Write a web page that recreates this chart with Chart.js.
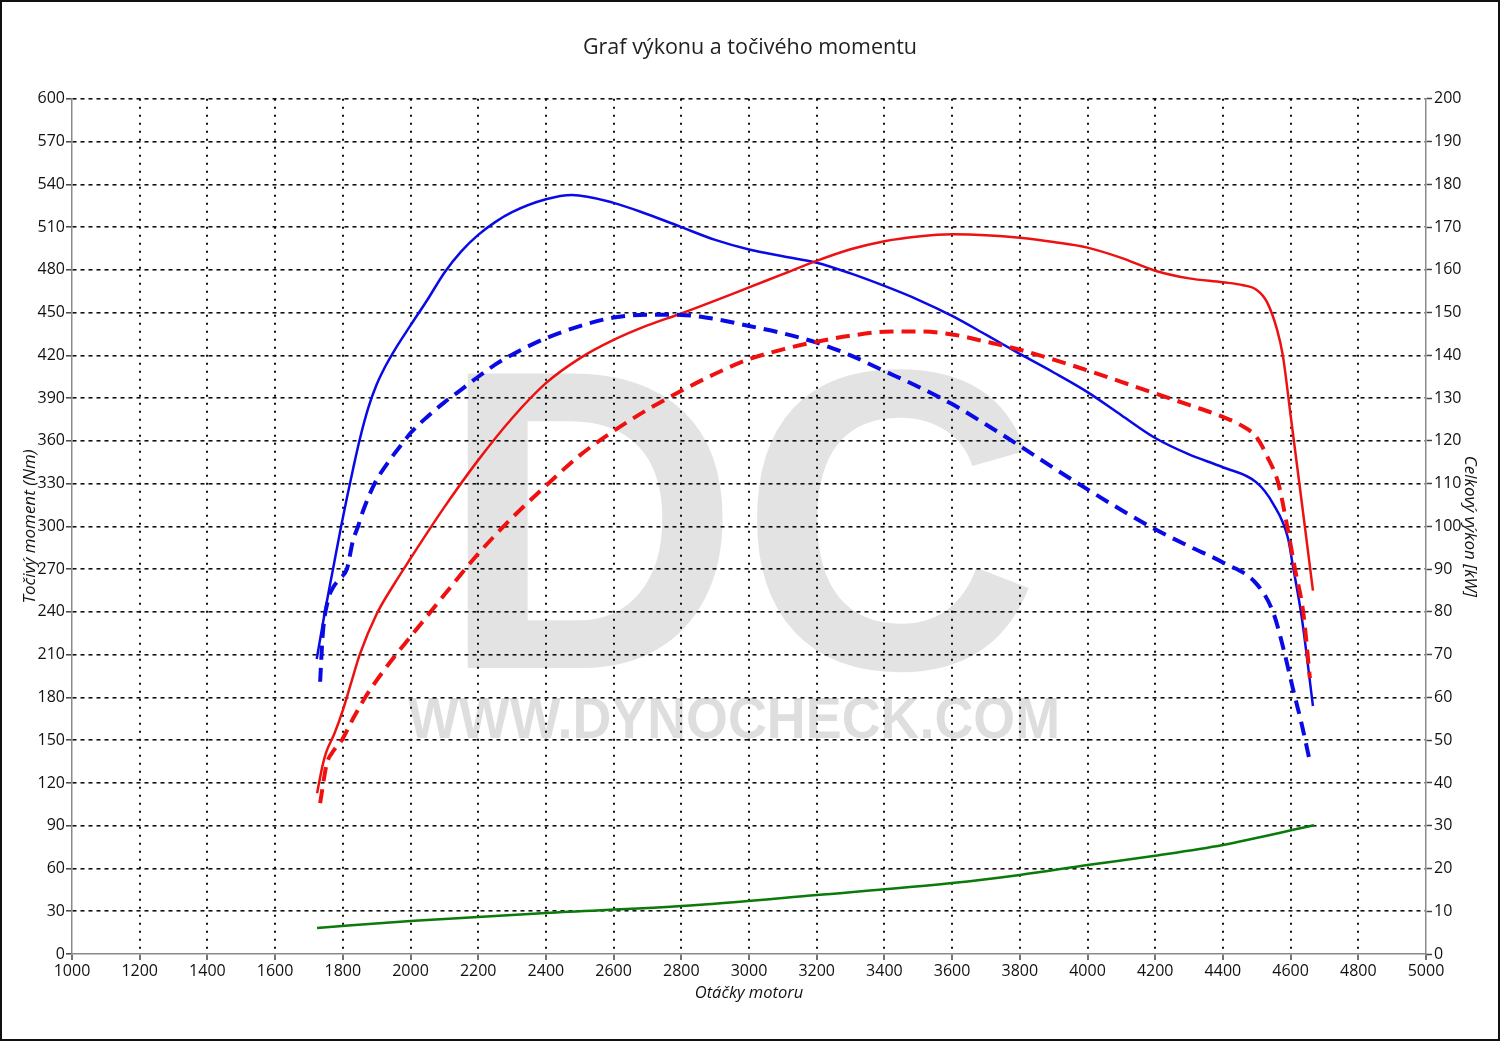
<!DOCTYPE html>
<html>
<head>
<meta charset="utf-8">
<script src="https://cdn.jsdelivr.net/npm/chart.js@4.4.1/dist/chart.umd.min.js"></script>
<style>
  html, body { margin: 0; padding: 0; background: #fff; }
  #wrap { position: relative; width: 1500px; height: 1041px; }
</style>
</head>
<body>
<div id="wrap"><canvas id="dyno"></canvas></div>
<script>
// Data
const rpmTorqueTuned = [1723, 1747, 1771, 1795, 1812, 1830, 1850, 1875, 1900, 1925, 1950, 2000, 2050, 2100, 2150, 2200, 2250, 2300, 2400, 2477, 2600, 2700, 2800, 2900, 3000, 3100, 3200, 3300, 3400, 3500, 3600, 3700, 3800, 3900, 4000, 4100, 4200, 4300, 4400, 4500, 4548, 4592, 4607, 4633, 4666];
const torqueTuned = [207, 240, 270, 300, 320, 340, 361, 383, 399.5, 412, 422.5, 441, 459, 478, 493, 504.5, 513.5, 520.5, 529.5, 532.5, 527, 519, 510, 501, 494.3, 489.5, 485, 477.5, 468.7, 459, 447.7, 434.5, 421, 408, 394.2, 378, 362, 350.5, 341.5, 330.7, 316, 292, 272, 236, 174];

const rpmTorqueStock = [1733, 1741, 1756, 1771, 1792, 1812, 1830, 1845, 1860, 1894, 1940, 1982, 2000, 2050, 2100, 2150, 2200, 2250, 2300, 2400, 2500, 2600, 2700, 2800, 2900, 3000, 3100, 3200, 3300, 3400, 3500, 3600, 3700, 3800, 3900, 4000, 4100, 4200, 4300, 4400, 4500, 4548, 4577, 4607, 4633, 4657];
const torqueStock = [191, 225, 248, 257, 263.5, 270, 290, 300, 311, 330, 347, 360, 365.5, 377, 387, 396, 405, 413.5, 420.5, 432, 440.5, 446.5, 448.5, 448.4, 445.5, 440.6, 435.5, 428.9, 420, 409, 398, 385.8, 371.5, 356.5, 341, 326, 311.5, 298, 286, 274.7, 259.5, 240, 216, 186, 161, 135];

const rpmPowerTuned = [1724, 1740, 1750, 1775, 1800, 1825, 1850, 1900, 1950, 2000, 2100, 2200, 2300, 2400, 2500, 2600, 2700, 2800, 2900, 3000, 3100, 3200, 3300, 3400, 3500, 3600, 3700, 3800, 3900, 4000, 4100, 4200, 4300, 4400, 4460, 4500, 4530, 4560, 4577, 4600, 4630, 4666];
const powerTuned = [37.6, 44, 47, 51.5, 57, 63.5, 70, 79.5, 86.3, 92.5, 104.5, 115.5, 125.3, 133.5, 139.3, 143.6, 147, 149.8, 152.8, 155.9, 159, 162.1, 164.8, 166.7, 167.8, 168.3, 168.1, 167.5, 166.5, 165.2, 162.8, 159.8, 158, 157.1, 156.4, 155.3, 152.5, 146, 140, 126, 107.5, 85];

const rpmPowerStock = [1733, 1753, 1768, 1797, 1830, 1866, 1900, 1950, 2000, 2100, 2200, 2300, 2400, 2500, 2600, 2700, 2800, 2900, 3000, 3100, 3200, 3300, 3400, 3500, 3600, 3700, 3800, 3900, 4000, 4100, 4200, 4300, 4400, 4450, 4500, 4530, 4564, 4590, 4613, 4637, 4657];
const powerStock = [35.3, 44.6, 47, 50, 55, 60, 64, 69.3, 74.2, 84, 93.6, 102, 109.5, 116.6, 122.3, 127.3, 131.7, 135.7, 139.1, 141.4, 143.2, 144.6, 145.5, 145.6, 144.9, 143.2, 141.3, 139, 136.5, 133.8, 131.1, 128.4, 125.6, 123.8, 120.8, 116.5, 110, 100, 90, 80.1, 64.5];

const rpmLoss = [1724, 2000, 2400, 2800, 3200, 3600, 3800, 4000, 4200, 4400, 4669];
const powerLoss = [6.1, 7.7, 9.6, 11.2, 13.8, 16.6, 18.5, 20.8, 23, 25.5, 30.1];

const torqueTicks = { min: 0, max: 600, step: 30 };
const powerTicks = { min: 0, max: 200, step: 10 };
const rpmTicks = { min: 1000, max: 5000, step: 200 };

const toPoints = (xs, ys) => xs.map((x, i) => ({ x: x, y: ys[i] }));

const FONT = '"Open Sans", "Noto Sans", sans-serif';

// Watermark + frame
const dynoDecor = {
  id: "dynoDecor",
  beforeDraw(chart) {
    const ctx = chart.ctx;
    ctx.save();
    ctx.fillStyle = "#e3e3e3";
    ctx.textBaseline = "alphabetic";
    ctx.textAlign = "left";
    ctx.font = 'bold 428px "Liberation Sans", Arial, sans-serif';
    ctx.fillText("DC", 440, 668, 600);
    ctx.fillStyle = "#dedede";
    ctx.font = 'bold 57px "Liberation Sans", Arial, sans-serif';
    ctx.fillText("WWW.DYNOCHECK.COM", 408, 738, 652);
    ctx.restore();
  },
  afterDraw(chart) {
    const ctx = chart.ctx;
    ctx.save();
    ctx.strokeStyle = "#111";
    ctx.lineWidth = 2;
    ctx.strokeRect(1, 1, chart.width - 2, chart.height - 2);
    ctx.restore();
  },
};

function initChart() {
  new Chart(document.getElementById("dyno"), {
    type: "line",
    data: {
      datasets: [
        {
          label: "ztráty",
          data: toPoints(rpmLoss, powerLoss),
          yAxisID: "yPower",
          borderColor: "#0a7a0a",
          borderWidth: 2.5,
        },
        {
          label: "výkon sériový",
          data: toPoints(rpmPowerStock, powerStock),
          yAxisID: "yPower",
          borderColor: "#f01010",
          borderWidth: 4,
          borderDash: [14, 8],
        },
        {
          label: "moment sériový",
          data: toPoints(rpmTorqueStock, torqueStock),
          yAxisID: "yTorque",
          borderColor: "#0a0ae6",
          borderWidth: 4,
          borderDash: [14, 8],
        },
        {
          label: "výkon",
          data: toPoints(rpmPowerTuned, powerTuned),
          yAxisID: "yPower",
          borderColor: "#ee1111",
          borderWidth: 2.5,
        },
        {
          label: "moment",
          data: toPoints(rpmTorqueTuned, torqueTuned),
          yAxisID: "yTorque",
          borderColor: "#0a0ae6",
          borderWidth: 2.5,
        },
      ],
    },
    options: {
      responsive: true,
      maintainAspectRatio: false,
      animation: false,
      elements: {
        point: { radius: 0 },
        line: { cubicInterpolationMode: "monotone", fill: false },
      },
      layout: { padding: 0 },
      plugins: {
        legend: { display: false },
        tooltip: { enabled: false },
        title: {
          display: true,
          text: "Graf výkonu a točivého momentu",
          color: "#222",
          font: { family: FONT, size: 21.5, weight: "normal", lineHeight: 1.2 },
          padding: { top: 35, bottom: 38 },
        },
      },
      scales: {
        x: {
          type: "linear",
          min: rpmTicks.min,
          max: rpmTicks.max,
          afterFit(scale) { scale.height = 87; },
          ticks: {
            stepSize: rpmTicks.step,
            color: "#111",
            padding: 2,
            maxRotation: 0,
            font: { family: FONT, size: 16 },
            callback: (v) => String(v),
          },
          grid: {
            color: (c) => (c.tick && (c.tick.value === rpmTicks.min || c.tick.value === rpmTicks.max) ? "rgba(0,0,0,0)" : "#111"),
            lineWidth: 2,
            tickLength: 6,
            tickColor: "#444",
            tickWidth: 1.5,
          },
          border: { display: true, color: "#8a8a8a", width: 1.5, dash: [2, 6] },
          title: {
            display: true,
            text: "Otáčky motoru",
            color: "#111",
            font: { family: FONT, size: 16.5, style: "italic", lineHeight: 1.2 },
            padding: { top: 0, bottom: 38 },
          },
        },
        yTorque: {
          type: "linear",
          position: "left",
          min: torqueTicks.min,
          max: torqueTicks.max,
          afterFit(scale) { scale.width = 72; },
          ticks: {
            stepSize: torqueTicks.step,
            color: "#111",
            padding: 1,
            font: { family: FONT, size: 16 },
          },
          grid: {
            color: (c) => (c.tick && c.tick.value === torqueTicks.min ? "rgba(0,0,0,0)" : "#111"),
            lineWidth: 1.6,
            tickLength: 6,
            tickColor: "#444",
            tickWidth: 1.5,
          },
          border: { display: true, color: "#8a8a8a", width: 1.5, dash: [4, 4] },
          title: {
            display: true,
            text: "Točivý moment (Nm)",
            color: "#111",
            font: { family: FONT, size: 17, style: "italic", lineHeight: 1.2 },
            padding: { top: 20, bottom: 0 },
          },
        },
        yPower: {
          type: "linear",
          position: "right",
          min: powerTicks.min,
          max: powerTicks.max,
          afterFit(scale) { scale.width = 74; },
          ticks: {
            stepSize: powerTicks.step,
            color: "#111",
            padding: 2,
            font: { family: FONT, size: 16 },
          },
          grid: {
            drawOnChartArea: false,
            tickLength: 6,
            tickColor: "#444",
            tickWidth: 1.5,
          },
          border: { display: true, color: "#8a8a8a", width: 1.5 },
          title: {
            display: true,
            text: "Celkový výkon [kW]",
            color: "#111",
            font: { family: FONT, size: 17, style: "italic", lineHeight: 1.2 },
            padding: { top: 20, bottom: 0 },
          },
        },
      },
    },
    plugins: [dynoDecor],
  });
}

window.addEventListener("DOMContentLoaded", initChart);
</script>
</body>
</html>
